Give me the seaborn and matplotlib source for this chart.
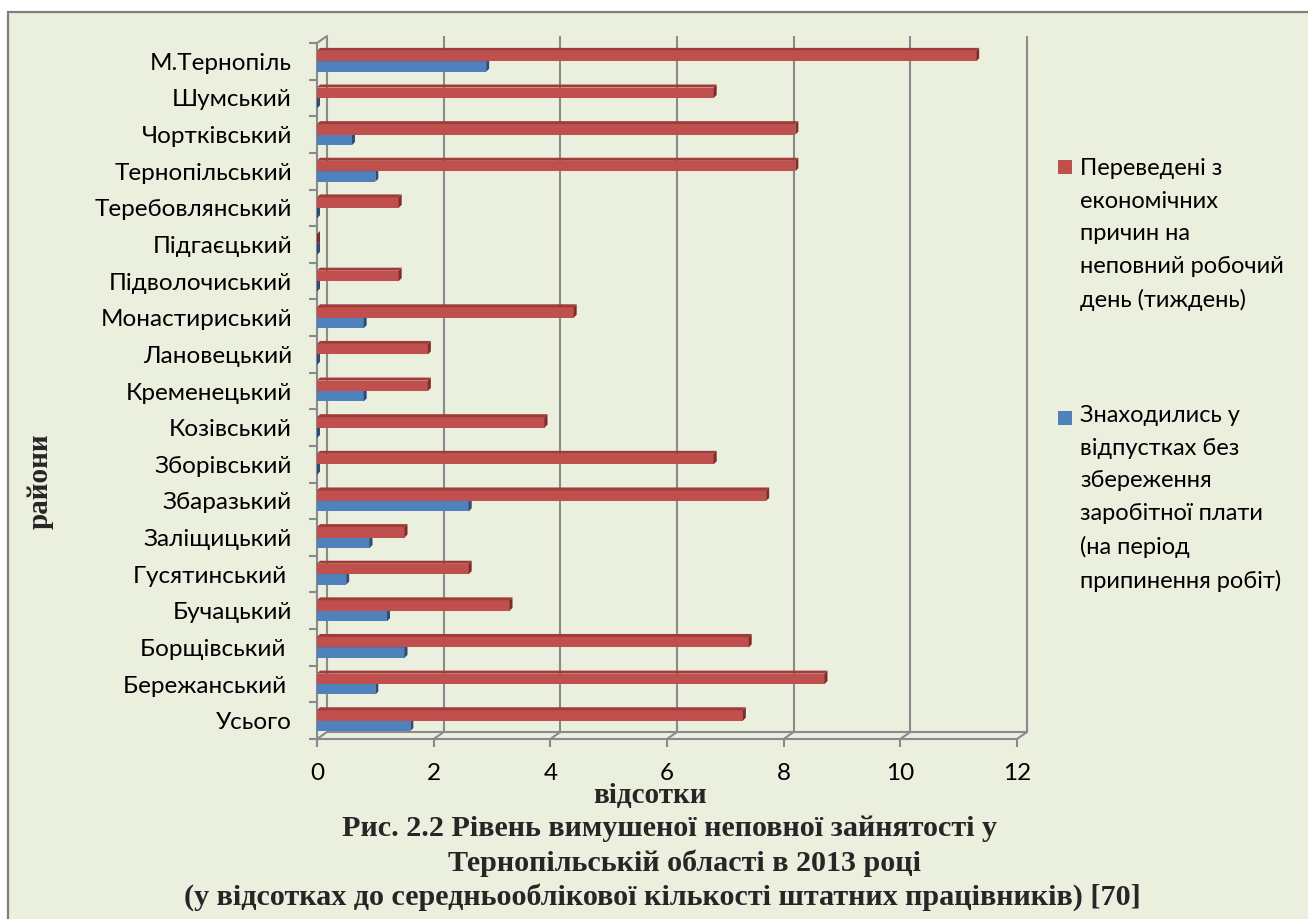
import numpy as np
import pandas as pd
import seaborn as sns
import matplotlib
matplotlib.use("Agg")
import matplotlib.pyplot as plt
from matplotlib import transforms as mtransforms
from matplotlib.patches import Polygon, Rectangle
from matplotlib.lines import Line2D

# ---- data -------------------------------------------------------------
districts = [
    "М.Тернопіль", "Шумський", "Чортківський", "Тернопільський",
    "Теребовлянський", "Підгаєцький", "Підволочиський", "Монастириський",
    "Лановецький", "Кременецький", "Козівський", "Зборівський",
    "Збаразький", "Заліщицький", "Гусятинський ", "Бучацький",
    "Борщівський ", "Бережанський ", "Усього",
]
part_time = [11.3, 6.8, 8.2, 8.2, 1.4, 0.0, 1.4, 4.4, 1.9, 1.9,
             3.9, 6.8, 7.7, 1.5, 2.6, 3.3, 7.4, 8.7, 7.3]
unpaid_leave = [2.9, 0.0, 0.6, 1.0, 0.0, 0.0, 0.0, 0.8, 0.0, 0.8,
                0.0, 0.0, 2.6, 0.9, 0.5, 1.2, 1.5, 1.0, 1.6]
series_names = [
    "Переведені з\nекономічних\nпричин на\nнеповний робочий\nдень (тиждень)",
    "Знаходились у\nвідпустках без\nзбереження\nзаробітної плати\n(на період\nприпинення робіт)",
]
x_ticks = [0, 2, 4, 6, 8, 10, 12]
x_label = "відсотки"
y_label = "райони"
caption = [
    "Рис. 2.2 Рівень вимушеної неповної зайнятості у",
    "Тернопільській області в 2013 році",
    "(у відсотках до середньооблікової кількості штатних працівників) [70]",
]

# ---- style ------------------------------------------------------------
RED, BLUE = "#C0504D", "#4F81BD"
RED_TOP, RED_END = "#9F3C39", "#7E2B29"
BLUE_TOP, BLUE_END = "#3A6596", "#2B4D76"
BG = "#EBEFDE"
GRID = "#8A8A8A"
SANS = ["Lato", "DejaVu Sans"]
SERIF = ["Liberation Serif", "DejaVu Serif"]

sns.set_theme(style="white")
plt.rcParams["font.family"] = SANS

W, H, DPI = 1308, 919, 100
fig = plt.figure(figsize=(W / DPI, H / DPI), dpi=DPI, facecolor="white")
ident = mtransforms.IdentityTransform()

# chart area panel with thin grey frame
panel = Rectangle((8, -20), W + 40, H - 12 + 20, facecolor=BG,
                  edgecolor="#7F7F7F", linewidth=1.6, zorder=-5)
panel.set_transform(ident)
fig.patches.append(panel)

# plot area (pixel box of the front planes)
L, R, T, B = 317, 1017, 43, 739
ax = fig.add_axes([L / W, 1 - B / H, (R - L) / W, (B - T) / H])
ax.set_facecolor("none")
ax.set_zorder(2)

df = pd.DataFrame({
    "district": districts * 2,
    "value": part_time + unpaid_leave,
    "series": [series_names[0]] * len(districts) + [series_names[1]] * len(districts),
})
sns.barplot(data=df, y="district", x="value", hue="series", order=districts,
            hue_order=series_names, palette=[RED, BLUE], saturation=1,
            width=0.57, orient="h", legend=False, ax=ax, linewidth=0,
            errorbar=None)

ax.set_xlim(0, 12)
ax.set_ylim(len(districts) - 0.5, -0.5)
ax.set_xticks(x_ticks)
ax.set_xticklabels([str(t) for t in x_ticks])
ax.set_xlabel("")
ax.set_ylabel("")

for side in ("top", "right"):
    ax.spines[side].set_visible(False)
for side in ("left", "bottom"):
    ax.spines[side].set_color(GRID)
    ax.spines[side].set_linewidth(1.5)
    ax.spines[side].set_zorder(1)

ax.tick_params(axis="y", which="major", length=0, pad=18, labelsize=17.5,
               labelcolor="black")
ax.set_yticks(np.arange(-0.5, len(districts), 1.0), minor=True)
ax.tick_params(axis="y", which="minor", length=6, width=1.5, color=GRID,
               direction="out", left=True)
ax.tick_params(axis="x", which="major", length=6, width=1.5, color=GRID,
               direction="out", pad=11, labelsize=17.5, labelcolor="black",
               bottom=True)

# back wall: gridlines shifted into depth
depth = mtransforms.ScaledTranslation(10 / DPI, 7 / DPI, fig.dpi_scale_trans)
wall = ax.get_xaxis_transform() + depth
ax.vlines(x_ticks, 0, 1, transform=wall, color=GRID, linewidth=1.5,
          zorder=1, clip_on=False)
ax.plot([x_ticks[0], x_ticks[-1]], [0, 0], transform=wall, color=GRID,
        linewidth=1.5, zorder=1, clip_on=False)

fig.canvas.draw()

# floor and side-wall connectors between front and back planes
for v in x_ticks:
    x0, y0 = ax.transData.transform((v, len(districts) - 0.5))
    ax.add_line(Line2D([x0, x0 + 10], [y0, y0 + 7], transform=ident,
                       color=GRID, linewidth=1.5, zorder=1, clip_on=False))
x0, y0 = ax.transData.transform((0, -0.5))
ax.add_line(Line2D([x0, x0 + 10], [y0, y0 + 7], transform=ident,
                   color=GRID, linewidth=1.5, zorder=1, clip_on=False))

# extruded tops and end caps for every bar
d = 3
styles = [(RED_TOP, RED_END, 4), (BLUE_TOP, BLUE_END, 3)]
for container, (top_c, end_c, z) in zip(ax.containers, styles):
    for bar in container:
        bar.set_zorder(z)
        bx, by = bar.get_x(), bar.get_y()
        (xa, ya), (xb, yb) = ax.transData.transform(
            [(bx, by), (bx + bar.get_width(), by + bar.get_height())])
        lft, rgt = min(xa, xb), max(xa, xb)
        bot, top = min(ya, yb), max(ya, yb)
        ax.add_patch(Polygon([(lft, top), (rgt, top), (rgt + d, top + d),
                              (lft + d, top + d)], closed=True,
                             transform=ident, facecolor=top_c,
                             edgecolor="none", zorder=z + 0.5, clip_on=False))
        ax.add_patch(Polygon([(rgt, bot), (rgt, top), (rgt + d, top + d),
                              (rgt + d, bot + d)], closed=True,
                             transform=ident, facecolor=end_c,
                             edgecolor="none", zorder=z + 0.5, clip_on=False))

# legend on the right
legend_rows = [(series_names[0], RED, 167, 158), (series_names[1], BLUE, 418, 405)]
for text, color, yc, ytext in legend_rows:
    key = Rectangle((1058, H - yc - 7), 14, 14, facecolor=color,
                    edgecolor="none", zorder=3)
    key.set_transform(ident)
    fig.patches.append(key)
    fig.text(1080 / W, 1 - ytext / H, text, ha="left", va="top",
             fontsize=17, linespacing=1.68, family=SANS, color="black")

# axis titles and caption
fig.text(40 / W, 1 - 481 / H, y_label, rotation=90, ha="center", va="center",
         fontsize=21, fontweight="bold", family=SERIF)
fig.text(650 / W, 1 - 795 / H, x_label, ha="center", va="center",
         fontsize=21, fontweight="bold", family=SERIF)
for line, xc, yc in zip(caption, [670, 685, 662], [828, 863, 897]):
    fig.text(xc / W, 1 - yc / H, line, ha="center", va="center",
             fontsize=21.7, fontweight="bold", family=SERIF)

fig.savefig("out.png", dpi=DPI, facecolor="white")
